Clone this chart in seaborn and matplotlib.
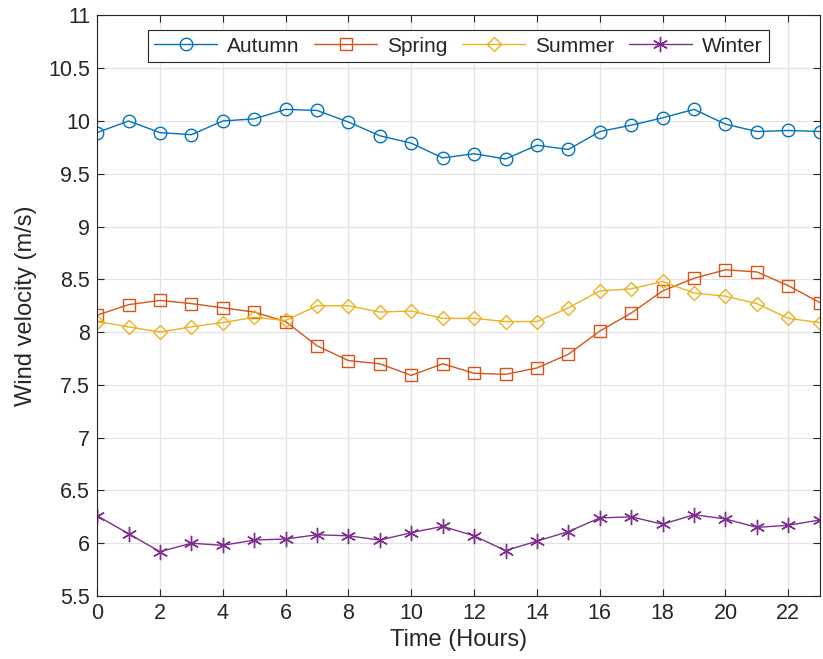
import pandas as pd
import matplotlib
matplotlib.use("Agg")
import matplotlib.pyplot as plt
import seaborn as sns

# Data
hours = list(range(24))
autumn = [9.89, 10.00, 9.89, 9.87, 10.00, 10.02, 10.11, 10.10, 9.99, 9.86, 9.79, 9.65,
          9.69, 9.64, 9.77, 9.73, 9.90, 9.96, 10.03, 10.11, 9.97, 9.90, 9.91, 9.90]
spring = [8.16, 8.26, 8.30, 8.27, 8.23, 8.19, 8.10, 7.87, 7.73, 7.70, 7.59, 7.70,
          7.61, 7.60, 7.66, 7.79, 8.01, 8.18, 8.39, 8.51, 8.59, 8.57, 8.44, 8.28]
summer = [8.10, 8.05, 8.00, 8.05, 8.09, 8.14, 8.11, 8.25, 8.25, 8.19, 8.20, 8.13,
          8.13, 8.10, 8.10, 8.23, 8.39, 8.41, 8.48, 8.37, 8.34, 8.27, 8.13, 8.09]
winter = [6.26, 6.09, 5.92, 6.00, 5.98, 6.03, 6.04, 6.08, 6.07, 6.03, 6.10, 6.16,
          6.07, 5.93, 6.02, 6.11, 6.24, 6.25, 6.18, 6.27, 6.23, 6.15, 6.17, 6.22]

seasons = ["Autumn", "Spring", "Summer", "Winter"]
values = [autumn, spring, summer, winter]
colors = ["#0072BD", "#D95319", "#EDB120", "#7E2F8E"]
markers = ["o", "s", "D", (6, 2, 0)]
msizes = [9, 8.5, 7.5, 11]

df = pd.DataFrame({"Time": hours * 4,
                   "Velocity": sum(values, []),
                   "Season": [s for s in seasons for _ in hours]})

sns.set_style("ticks")
plt.rcParams["font.family"] = ["Liberation Sans", "DejaVu Sans"]

fig = plt.figure(figsize=(8.23, 6.59), dpi=100)
ax = fig.add_axes([0.118, 0.0956, 0.878, 0.881])

for s, c, m, ms in zip(seasons, colors, markers, msizes):
    sub = df[df["Season"] == s]
    sns.lineplot(data=sub, x="Time", y="Velocity", ax=ax, color=c, marker=m,
                 markersize=ms, markerfacecolor="none",
                 markeredgecolor=c, markeredgewidth=1.0, linewidth=1.0, label=s)

ax.set_xlim(0, 23)
ax.set_ylim(5.5, 11)
ax.set_xticks(range(0, 23, 2))
yt = [5.5 + 0.5 * i for i in range(12)]
ax.set_yticks(yt)
ax.set_yticklabels([f"{v:g}" for v in yt])
ax.grid(True, color="#e3e3e3", linewidth=0.9)
ax.set_axisbelow(True)
for sp in ax.spines.values():
    sp.set_visible(True)
    sp.set_color("#262626")
    sp.set_linewidth(0.8)
ax.tick_params(direction="in", length=5, width=0.8, colors="#262626",
               labelsize=15.5, right=True, top=True, pad=5)
ax.set_xlabel("Time (Hours)", fontsize=17, color="#262626", labelpad=4)
ax.set_ylabel("Wind velocity (m/s)", fontsize=17, color="#262626", labelpad=8)

leg = ax.legend(loc="upper center", ncol=4, fontsize=15, frameon=True, fancybox=False,
                edgecolor="#262626", framealpha=1, handlelength=3.0, columnspacing=0.7,
                handletextpad=0.5, borderpad=0.3, borderaxespad=0.3,
                bbox_to_anchor=(0.5, 0.985))
leg.get_frame().set_linewidth(0.8)

fig.savefig("out.png", dpi=100)
